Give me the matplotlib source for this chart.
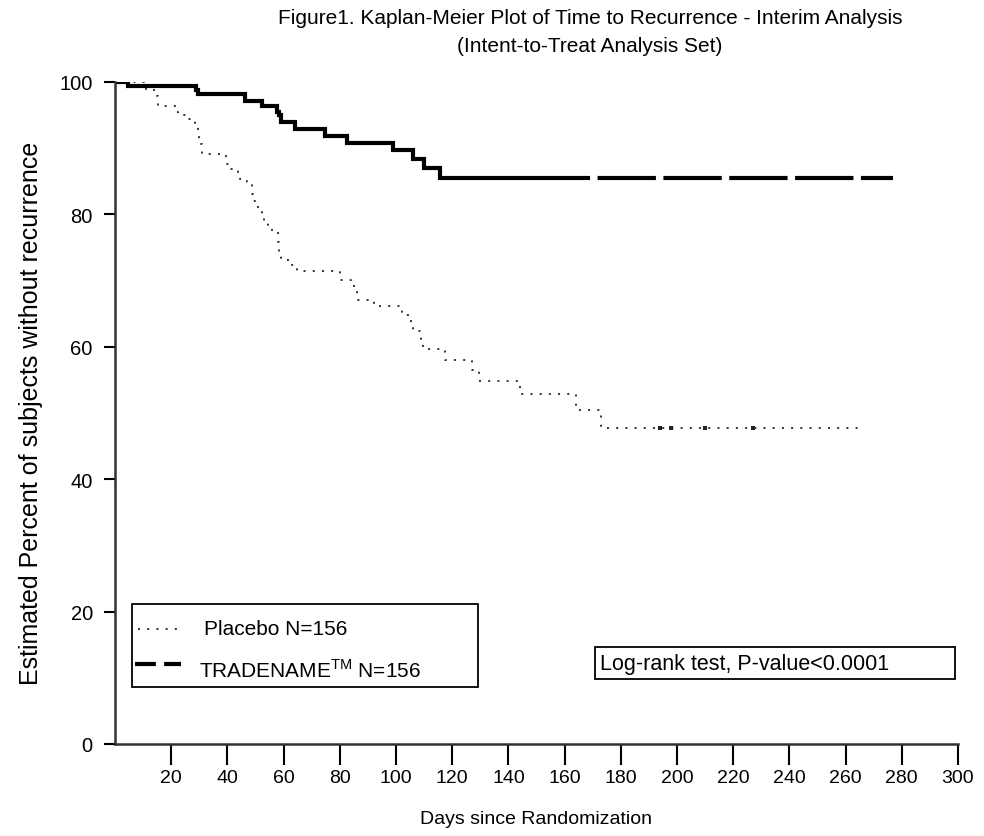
import matplotlib
matplotlib.use("Agg")
import matplotlib.pyplot as plt
from matplotlib.patches import Rectangle

plt.rcParams['font.family'] = ['Liberation Sans Narrow', 'Liberation Sans', 'DejaVu Sans']

# Kaplan-Meier step data (days, percent without recurrence)
placebo_days = [0, 11, 14.8, 15.3, 22, 22.5, 25.5, 28.5, 29.5, 30, 31, 39.5, 41, 43.8, 44.5,
                46.9, 48, 48.6, 49.2, 49.8, 51, 52.2, 53.2, 54.5, 56, 58, 58.5, 59, 63, 64.6,
                80, 84, 86, 86.5, 92.2, 102.3, 105.3, 106, 109, 109.5, 117.3, 127.2, 129.7,
                144.2, 164, 173]
placebo_surv = [100, 98.7, 97.9, 96.4, 95.5, 95.0, 94.3, 93.6, 92.4, 90.6, 89.1, 87.6, 86.8,
                86.1, 85.3, 84.8, 84.5, 83.0, 82.0, 81.5, 80.8, 79.8, 79.0, 78.3, 77.4, 75.8,
                74.3, 73.1, 72.3, 71.4, 70.1, 69.1, 67.7, 67.1, 66.2, 64.7, 63.4, 62.3, 60.7,
                59.6, 58.0, 56.5, 54.8, 52.8, 50.5, 47.7]
placebo_last_day = 266
placebo_censor_days = [194, 198, 210, 227]

trt_days = [0, 4.7, 29, 29.5, 46.3, 52.2, 57.5, 58.2, 59, 64, 74.7, 82.4, 99, 106, 110, 115.5]
trt_surv = [100, 99.4, 98.7, 98.1, 97.1, 96.3, 95.5, 94.9, 93.9, 92.9, 91.8, 90.8, 89.7,
            88.4, 86.9, 85.4]
trt_last_day = 277

x_ticks = list(range(20, 301, 20))
y_ticks = list(range(0, 101, 20))

fig = plt.figure(figsize=(9.84, 8.37), dpi=100)
ax = fig.add_axes([115 / 984, 1 - 745 / 837, 843 / 984, 662.3 / 837])

# placebo curve, dotted
px = placebo_days + [placebo_last_day]
py = placebo_surv + [placebo_surv[-1]]
ax.step(px, py, where='post', color='#222222', lw=1.3, linestyle=(0, (1.1, 4.0)))
ax.plot(placebo_censor_days, [placebo_surv[-1]] * len(placebo_censor_days), 's',
        color='#222222', ms=2.5, mew=0)

# treatment curve: steps look solid, long flat tail shows the dashes
ax.step(trt_days + [trt_days[-1] + 35], trt_surv + [trt_surv[-1]], where='post',
        color='black', lw=3.0, solid_joinstyle='miter', solid_capstyle='butt')
ax.plot([trt_days[-1] + 35, trt_last_day], [trt_surv[-1], trt_surv[-1]], color='black',
        lw=3.0, linestyle=(1.5, (14, 1.8)), dash_capstyle='butt')

ax.set_xlim(0, 300)
ax.set_ylim(0, 100)
ax.set_xticks(x_ticks)
ax.set_yticks(y_ticks)
ax.tick_params(axis='x', direction='out', length=15, width=1.5, pad=3, labelsize=14)
ax.tick_params(axis='y', direction='out', length=8, width=1.5, pad=8, labelsize=14.5)
for s in ['top', 'right']:
    ax.spines[s].set_visible(False)
for s in ['left', 'bottom']:
    ax.spines[s].set_linewidth(1.8)
    ax.spines[s].set_color('#333333')

ax.set_xlabel('Days since Randomization', fontsize=14, labelpad=17)
ax.set_ylabel('Estimated Percent of subjects without recurrence', fontsize=18, labelpad=12)

fig.text(590 / 984, 1 - 18 / 837, 'Figure1. Kaplan-Meier Plot of Time to Recurrence - Interim Analysis',
         ha='center', va='center', fontsize=15)
fig.text(590 / 984, 1 - 46 / 837, '(Intent-to-Treat Analysis Set)',
         ha='center', va='center', fontsize=15)

# legend box
tr = ax.transAxes
ax.add_patch(Rectangle((0.020, 0.086), 0.411, 0.126, transform=tr, fill=False,
                       lw=1.3, edgecolor='black'))
ax.plot([0.027, 0.074], [0.174, 0.174], transform=tr, color='#222222', lw=1.3,
        linestyle=(0, (1.1, 4.0)))
ax.text(0.106, 0.174, 'Placebo N=156', transform=tr, fontsize=15, va='center')
ax.plot([0.024, 0.078], [0.121, 0.121], transform=tr, color='black', lw=3.0,
        linestyle=(0, (5, 2)))
ax.text(0.100, 0.112, r'TRADENAME$^{\mathregular{TM}}$ N=156', transform=tr, fontsize=15,
        va='center')

# log-rank box
ax.add_patch(Rectangle((0.569, 0.098), 0.427, 0.048, transform=tr, fill=False,
                       lw=1.3, edgecolor='black'))
ax.text(0.575, 0.121, 'Log-rank test, P-value<0.0001', transform=tr, fontsize=15.5,
        va='center')

fig.savefig('out.png', dpi=100)
